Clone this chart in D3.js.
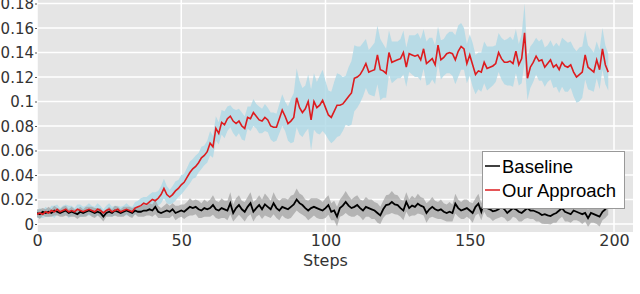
<!DOCTYPE html>
<html>
<head>
<meta charset="utf-8">
<script src="https://cdn.jsdelivr.net/npm/d3@7"></script>
<style>
  html, body { margin: 0; padding: 0; background: #ffffff; }
  svg { display: block; }
</style>
</head>
<body>
<svg id="chart" width="640" height="294"></svg>
<script>
// ---------------- data ----------------
const ourMean = [
  0.008,0.009,0.008,0.010,0.009,0.011,0.010,0.012,0.010,0.011,
  0.012,0.010,0.011,0.010,0.012,0.011,0.010,0.011,0.012,0.011,
  0.010,0.012,0.011,0.009,0.011,0.012,0.010,0.011,0.012,0.010,
  0.011,0.012,0.011,0.010,0.013,0.014,0.015,0.017,0.016,0.018,
  0.020,0.019,0.021,0.024,0.029,0.024,0.022,0.024,0.027,0.029,
  0.032,0.034,0.038,0.042,0.045,0.047,0.050,0.054,0.056,0.059,
  0.066,0.063,0.078,0.074,0.083,0.081,0.086,0.088,0.084,0.082,
  0.084,0.080,0.078,0.087,0.086,0.091,0.088,0.085,0.084,0.087,
  0.085,0.080,0.079,0.079,0.086,0.093,0.088,0.082,0.084,0.087,
  0.103,0.095,0.091,0.094,0.100,0.085,0.100,0.095,0.097,0.101,
  0.095,0.089,0.087,0.092,0.097,0.097,0.098,0.101,0.104,0.107,
  0.119,0.120,0.122,0.126,0.131,0.124,0.125,0.126,0.138,0.126,
  0.125,0.123,0.140,0.132,0.133,0.134,0.135,0.140,0.128,0.139,
  0.138,0.137,0.138,0.134,0.143,0.131,0.133,0.135,0.130,0.146,
  0.134,0.136,0.139,0.140,0.139,0.134,0.141,0.145,0.143,0.131,
  0.138,0.130,0.122,0.125,0.124,0.132,0.127,0.128,0.129,0.131,
  0.140,0.135,0.132,0.132,0.133,0.131,0.141,0.130,0.135,0.156,
  0.119,0.128,0.132,0.137,0.133,0.134,0.128,0.131,0.134,0.128,
  0.130,0.126,0.132,0.129,0.128,0.130,0.124,0.120,0.122,0.124,
  0.138,0.128,0.126,0.124,0.134,0.126,0.143,0.130,0.124
];
const ourSpread = [
  0.003,0.004,0.003,0.004,0.003,0.004,0.005,0.004,0.003,0.004,
  0.004,0.005,0.004,0.003,0.004,0.005,0.004,0.004,0.005,0.004,
  0.004,0.005,0.004,0.003,0.004,0.005,0.004,0.004,0.003,0.004,
  0.004,0.005,0.004,0.004,0.005,0.005,0.006,0.005,0.006,0.006,
  0.006,0.007,0.006,0.007,0.008,0.007,0.006,0.007,0.008,0.007,
  0.008,0.007,0.008,0.009,0.008,0.009,0.008,0.009,0.008,0.009,
  0.010,0.009,0.010,0.009,0.010,0.011,0.010,0.009,0.010,0.011,
  0.010,0.011,0.010,0.009,0.010,0.011,0.010,0.011,0.010,0.011,
  0.010,0.011,0.012,0.011,0.012,0.013,0.012,0.014,0.018,0.020,
  0.024,0.022,0.020,0.019,0.022,0.025,0.023,0.021,0.024,0.025,
  0.022,0.020,0.021,0.024,0.026,0.025,0.022,0.020,0.024,0.026,
  0.027,0.025,0.023,0.022,0.020,0.018,0.020,0.022,0.024,0.025,
  0.022,0.020,0.018,0.017,0.016,0.015,0.016,0.018,0.016,0.015,
  0.016,0.017,0.018,0.017,0.016,0.018,0.019,0.017,0.016,0.015,
  0.016,0.015,0.016,0.017,0.018,0.020,0.021,0.019,0.017,0.016,
  0.017,0.018,0.016,0.015,0.016,0.017,0.018,0.017,0.016,0.015,
  0.016,0.017,0.018,0.019,0.020,0.019,0.018,0.017,0.020,0.024,
  0.018,0.017,0.016,0.015,0.016,0.017,0.016,0.015,0.016,0.017,
  0.018,0.019,0.020,0.021,0.020,0.019,0.020,0.021,0.022,0.021,
  0.020,0.018,0.017,0.016,0.015,0.016,0.017,0.016,0.015
];
const baseMean = [
  0.009,0.008,0.010,0.009,0.010,0.009,0.011,0.010,0.009,0.010,
  0.011,0.009,0.010,0.009,0.008,0.010,0.009,0.010,0.011,0.010,
  0.009,0.010,0.009,0.006,0.009,0.010,0.009,0.011,0.010,0.009,
  0.010,0.011,0.010,0.009,0.011,0.010,0.010,0.011,0.011,0.012,
  0.011,0.014,0.010,0.009,0.010,0.011,0.010,0.012,0.009,0.010,
  0.011,0.010,0.012,0.014,0.013,0.014,0.012,0.011,0.013,0.012,
  0.013,0.0155,0.012,0.011,0.013,0.012,0.011,0.017,0.009,0.013,
  0.0155,0.012,0.010,0.014,0.017,0.010,0.013,0.0155,0.012,0.016,
  0.014,0.012,0.017,0.013,0.011,0.014,0.013,0.012,0.014,0.016,
  0.020,0.017,0.0155,0.013,0.011,0.013,0.014,0.013,0.012,0.011,
  0.013,0.0155,0.010,0.011,0.006,0.013,0.015,0.018,0.015,0.013,
  0.014,0.0155,0.013,0.011,0.014,0.013,0.012,0.011,0.009,0.007,
  0.012,0.0155,0.016,0.018,0.016,0.0155,0.013,0.011,0.018,0.013,
  0.015,0.014,0.0166,0.015,0.014,0.009,0.012,0.014,0.012,0.011,
  0.012,0.010,0.009,0.010,0.009,0.0166,0.013,0.011,0.012,0.013,
  0.011,0.009,0.014,0.0166,0.010,0.018,0.013,0.012,0.0104,0.011,
  0.012,0.014,0.012,0.009,0.011,0.013,0.012,0.010,0.009,0.011,
  0.013,0.011,0.011,0.010,0.009,0.0073,0.008,0.007,0.0065,0.008,
  0.009,0.011,0.013,0.010,0.009,0.008,0.011,0.010,0.009,0.008,
  0.009,0.0047,0.009,0.008,0.007,0.006,0.010,0.012,0.0155
];
const baseSpread = [
  0.003,0.004,0.003,0.003,0.004,0.003,0.004,0.003,0.003,0.004,
  0.004,0.003,0.004,0.003,0.004,0.004,0.003,0.004,0.003,0.004,
  0.004,0.003,0.004,0.004,0.003,0.004,0.003,0.004,0.004,0.003,
  0.004,0.003,0.004,0.004,0.003,0.004,0.004,0.005,0.004,0.005,
  0.005,0.006,0.005,0.004,0.005,0.006,0.005,0.005,0.006,0.005,
  0.005,0.006,0.006,0.007,0.006,0.006,0.007,0.006,0.007,0.006,
  0.007,0.008,0.007,0.007,0.008,0.007,0.008,0.009,0.007,0.008,
  0.008,0.007,0.008,0.008,0.009,0.008,0.007,0.008,0.008,0.009,
  0.008,0.007,0.009,0.008,0.008,0.007,0.008,0.008,0.009,0.008,
  0.009,0.008,0.008,0.007,0.008,0.008,0.007,0.008,0.008,0.007,
  0.008,0.008,0.007,0.008,0.008,0.007,0.008,0.009,0.008,0.007,
  0.008,0.008,0.007,0.008,0.008,0.007,0.008,0.007,0.008,0.007,
  0.007,0.008,0.008,0.009,0.008,0.008,0.007,0.008,0.008,0.007,
  0.008,0.007,0.008,0.007,0.007,0.008,0.007,0.008,0.007,0.007,
  0.008,0.007,0.007,0.008,0.007,0.008,0.007,0.007,0.008,0.007,
  0.007,0.008,0.007,0.008,0.007,0.008,0.007,0.007,0.008,0.007,
  0.007,0.008,0.007,0.007,0.008,0.007,0.007,0.008,0.007,0.007,
  0.008,0.007,0.007,0.008,0.007,0.007,0.008,0.007,0.007,0.007,
  0.008,0.007,0.007,0.008,0.007,0.007,0.008,0.007,0.007,0.008,
  0.007,0.007,0.008,0.007,0.007,0.008,0.007,0.007,0.008
];
const steps = d3.range(ourMean.length);
const xTicks = [0, 50, 100, 150, 200];
const yTicks = [0, 0.02, 0.04, 0.06, 0.08, 0.1, 0.12, 0.14, 0.16, 0.18];
const seriesNames = ["Baseline", "Our Approach"];
const xTitle = "Steps";

// ---------------- layout ----------------
const svg = d3.select("#chart");
const plot = { left: 37, right: 633, top: -4, bottom: 232 };

const x = d3.scaleLinear().domain([0, 200]).range([37, 614]);
const y = d3.scaleLinear().domain([0, 0.18]).range([224, 3.5]);

const tickFont = "'DejaVu Sans', Verdana, sans-serif";

svg.append("rect")
  .attr("x", plot.left).attr("y", plot.top)
  .attr("width", plot.right - plot.left).attr("height", plot.bottom - plot.top)
  .attr("fill", "#e5e5e5");

// grid
svg.append("g").selectAll("line").data(yTicks).join("line")
  .attr("x1", plot.left).attr("x2", plot.right)
  .attr("y1", d => y(d)).attr("y2", d => y(d))
  .attr("stroke", "#ffffff").attr("stroke-width", 1.5);
svg.append("g").selectAll("line").data(xTicks).join("line")
  .attr("x1", d => x(d)).attr("x2", d => x(d))
  .attr("y1", plot.top).attr("y2", plot.bottom)
  .attr("stroke", "#ffffff").attr("stroke-width", 1.5);

svg.append("clipPath").attr("id", "clip")
  .append("rect").attr("x", plot.left).attr("y", plot.top)
  .attr("width", plot.right - plot.left).attr("height", plot.bottom - plot.top);

const g = svg.append("g").attr("clip-path", "url(#clip)");

const area = (m, s) => d3.area()
  .x(i => x(steps[i]))
  .y0(i => y(m[i] - s[i]))
  .y1(i => y(m[i] + s[i]))(d3.range(m.length));
const line = (m) => d3.line()
  .x(i => x(steps[i]))
  .y(i => y(m[i]))(d3.range(m.length));

g.append("path").attr("d", area(ourMean, ourSpread))
  .attr("fill", "#add8e6").attr("fill-opacity", 0.8);
g.append("path").attr("d", area(baseMean, baseSpread))
  .attr("fill", "#a0a0a0").attr("fill-opacity", 0.7);
g.append("path").attr("d", line(baseMean))
  .attr("fill", "none").attr("stroke", "#000000").attr("stroke-width", 1.8);
g.append("path").attr("d", line(ourMean))
  .attr("fill", "none").attr("stroke", "#dd1c1f").attr("stroke-width", 1.6);

// y axis
const yAxis = d3.axisLeft(y).tickValues(yTicks)
  .tickFormat(d => d === 0 ? "0" : d3.format("~g")(d))
  .tickSize(2).tickPadding(1);
const ya = svg.append("g").attr("transform", `translate(${plot.left},0)`).call(yAxis);
ya.select(".domain").remove();
ya.selectAll(".tick line").attr("stroke", "#555");
ya.selectAll(".tick text").attr("font-family", tickFont).attr("font-size", 15)
  .attr("fill", "#333").attr("dy", "0.36em");

// x axis
const xAxis = d3.axisBottom(x).tickValues(xTicks).tickSize(0).tickPadding(3);
const xa = svg.append("g").attr("transform", `translate(0,${plot.bottom})`).call(xAxis);
xa.select(".domain").remove();
xa.selectAll(".tick text").attr("font-family", tickFont).attr("font-size", 16)
  .attr("fill", "#333");

svg.append("text").attr("x", x(100)).attr("y", 266)
  .attr("text-anchor", "middle").attr("font-family", tickFont)
  .attr("font-size", 16).attr("fill", "#333").text(xTitle);

// legend
const lg = svg.append("g").attr("transform", "translate(482,151)");
lg.append("rect").attr("x", 0.5).attr("y", 0.5).attr("width", 142).attr("height", 57)
  .attr("fill", "#ffffff").attr("stroke", "#999").attr("stroke-width", 1);
const lcolors = ["#000000", "#dd1c1f"];
seriesNames.forEach((name, i) => {
  const cy = 15 + i * 24;
  lg.append("line").attr("x1", 3).attr("x2", 18).attr("y1", cy).attr("y2", cy)
    .attr("stroke", lcolors[i]).attr("stroke-width", 1.5);
  lg.append("text").attr("x", 20).attr("y", cy).attr("dy", "0.36em")
    .attr("font-family", "'Liberation Sans', Arial, sans-serif").attr("font-size", 18.5)
    .attr("fill", "#000").text(name);
});
</script>
</body>
</html>
